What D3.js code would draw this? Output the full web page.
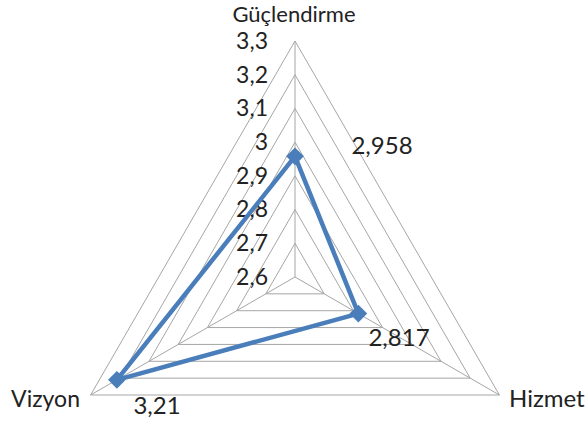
<!DOCTYPE html>
<html><head><meta charset="utf-8">
<script src="https://cdn.jsdelivr.net/npm/d3@7"></script>
<style>body{margin:0;background:#fff}svg{display:block}</style>
</head><body>
<svg id="c" width="587" height="423"></svg>
<script>
const categories = ["Güçlendirme", "Hizmet", "Vizyon"];
const values = [2.958, 2.817, 3.21];
const valueLabels = ["2,958", "2,817", "3,21"];
const ticks = [2.6, 2.7, 2.8, 2.9, 3.0, 3.1, 3.2, 3.3];
const tickLabels = ["2,6", "2,7", "2,8", "2,9", "3", "3,1", "3,2", "3,3"];

const svg = d3.select("#c");
const cx = 295, cy = 277, R = 236;
const font = "Lato, 'Open Sans', sans-serif";
const r = d3.scaleLinear().domain([2.6, 3.3]).range([0, R]);
const angle = i => -Math.PI / 2 + i * 2 * Math.PI / categories.length;
const pt = (i, v) => [cx + r(v) * Math.cos(angle(i)), cy + r(v) * Math.sin(angle(i))];

// rings
ticks.slice(1).forEach(t => {
  svg.append("polygon")
    .attr("points", categories.map((c, i) => pt(i, t).join(",")).join(" "))
    .attr("fill", "none").attr("stroke", "#a6a6a6").attr("stroke-width", 1);
});
// spokes
categories.forEach((c, i) => {
  const p = pt(i, 3.3);
  svg.append("line").attr("x1", cx).attr("y1", cy).attr("x2", p[0]).attr("y2", p[1])
    .attr("stroke", "#a6a6a6").attr("stroke-width", 1);
});
// tick labels
ticks.forEach((t, k) => {
  svg.append("text").attr("x", cx - 27).attr("y", cy - r(t) + 2)
    .attr("text-anchor", "end").attr("dominant-baseline", "middle")
    .attr("font-family", font).attr("font-size", 23).attr("fill", "#222")
    .text(tickLabels[k]);
});
// category labels
const catPos = [[294, 16, "middle"], [509, 401, "start"], [80, 401, "end"]];
const catSize = [22, 24, 23];
categories.forEach((c, i) => {
  svg.append("text").attr("x", catPos[i][0]).attr("y", catPos[i][1])
    .attr("text-anchor", catPos[i][2]).attr("dominant-baseline", "middle")
    .attr("font-family", font).attr("font-size", catSize[i]).attr("fill", "#222").text(c);
});
// series
const pts = values.map((v, i) => pt(i, v));
svg.append("polygon").attr("points", pts.map(p => p.join(",")).join(" "))
  .attr("fill", "none").attr("stroke", "#4a7ebb").attr("stroke-width", 4.5)
  .attr("stroke-linejoin", "round");
svg.selectAll(".m").data(pts).enter().append("path")
  .attr("d", d3.symbol().type(d3.symbolDiamond2).size(200)())
  .attr("transform", d => `translate(${d[0]},${d[1]})`)
  .attr("fill", "#4a7ebb");
// value labels
const valPos = [[382, 148], [399, 340], [157, 408]];
valueLabels.forEach((l, i) => {
  svg.append("text").attr("x", valPos[i][0]).attr("y", valPos[i][1])
    .attr("text-anchor", "middle").attr("dominant-baseline", "middle")
    .attr("font-family", font).attr("font-size", 24).attr("fill", "#222").text(l);
});
</script>
</body></html>
